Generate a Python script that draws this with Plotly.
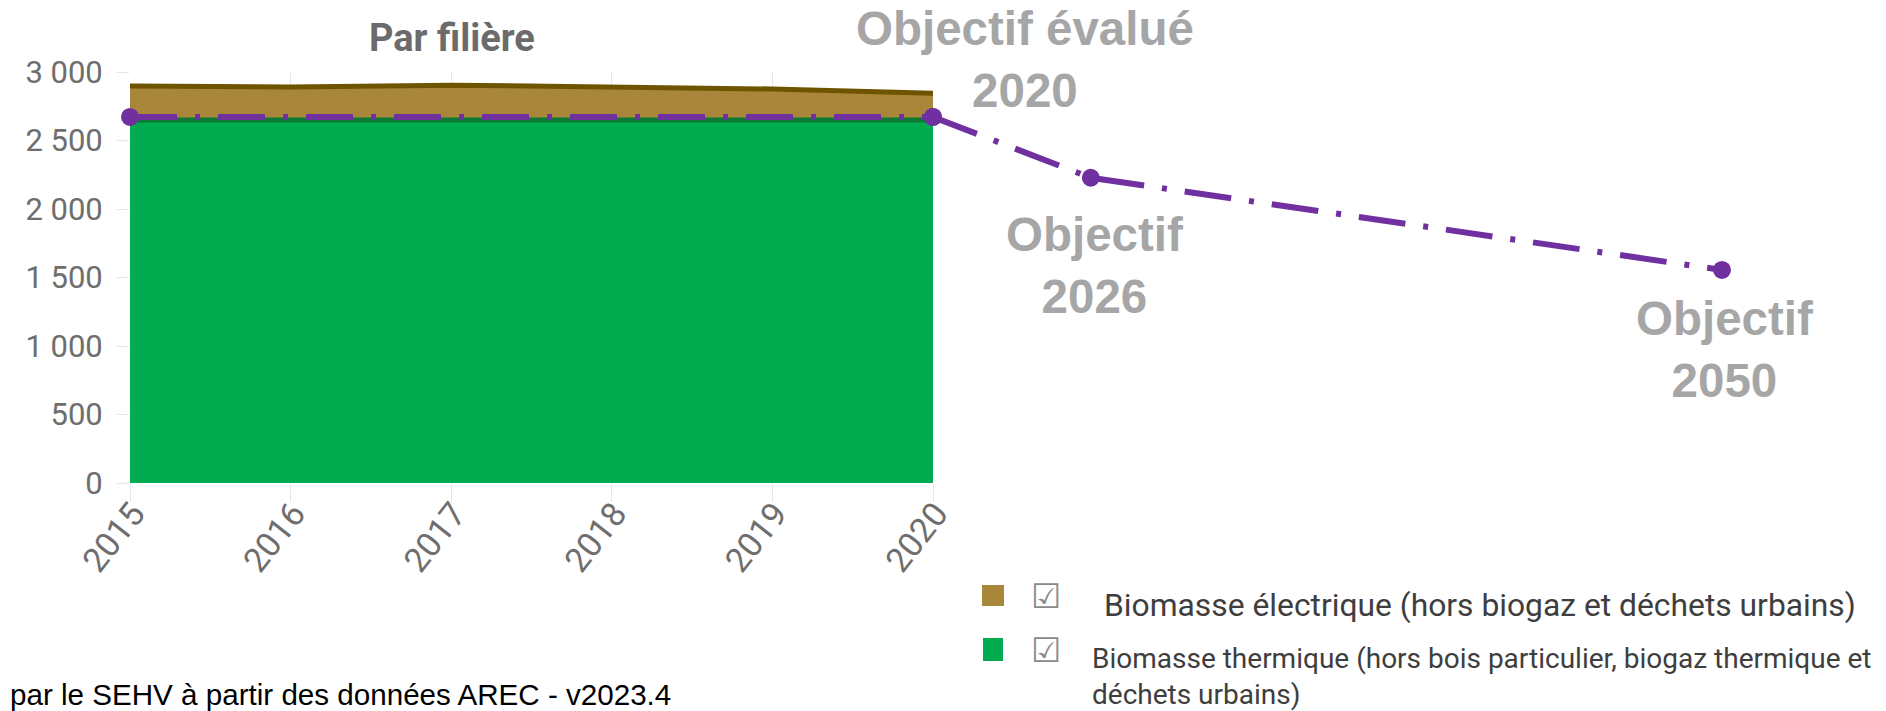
import plotly.graph_objects as go

# ---------------- data ----------------
years = [2015, 2016, 2017, 2018, 2019, 2020]
year_labels = ["2015", "2016", "2017", "2018", "2019", "2020"]
biomasse_thermique = [2650, 2650, 2650, 2650, 2650, 2650]
biomasse_electrique = [248, 240, 254, 236, 226, 195]

obj_hist_years = [2015, 2020]
obj_hist_values = [2672, 2672]
obj_years = [2020, 2026, 2050]
obj_values = [2672, 2228, 1555]
obj_labels = ["Objectif évalué<br>2020", "Objectif<br>2026", "Objectif<br>2050"]

y_ticks = [0, 500, 1000, 1500, 2000, 2500, 3000]
legend_names = [
    "Biomasse électrique (hors biogaz et déchets urbains)",
    "Biomasse thermique (hors bois particulier, biogaz thermique et<br>déchets urbains)",
]
title_text = "Par filière"
source_text = "par le SEHV à partir des données AREC - v2023.4"

# ---------------- styles ----------------
W, H = 1886, 711
def px_x(x):
    return x / W
def px_y(y):
    return 1 - y / H

GREEN = "#00AC4F"
GREEN_LINE = "#0B7A33"
BROWN = "#A8863A"
BROWN_LINE = "#6F5400"
PURPLE = "#7030A0"
GRID = "#E6E6E6"
TICK_FONT = dict(family="Roboto", size=31, color="#6E6E6E")
XTICK_FONT = dict(family="Roboto", size=34, color="#6E6E6E")
DASH = "47px,18px,5px,18px"

x_dom = [px_x(130), px_x(933)]
y_dom = [px_y(483), px_y(72)]
x2_dom = [px_x(933), 1.0]
px_per_year_x2 = 26.3
x2_range = [2020, 2020 + (W - 933) / px_per_year_x2]

fig = go.Figure()

fig.add_trace(go.Scatter(
    x=years, y=biomasse_thermique, stackgroup="one", mode="lines",
    line=dict(color=GREEN_LINE, width=5), fillcolor=GREEN,
    name=legend_names[1], showlegend=False, hoverinfo="skip",
))
fig.add_trace(go.Scatter(
    x=years, y=biomasse_electrique, stackgroup="one", mode="lines",
    line=dict(color=BROWN_LINE, width=5), fillcolor=BROWN,
    name=legend_names[0], showlegend=False, hoverinfo="skip",
))
fig.add_trace(go.Scatter(
    x=obj_hist_years, y=obj_hist_values, mode="lines+markers",
    line=dict(color=PURPLE, width=6, dash=DASH),
    marker=dict(color=PURPLE, size=18), cliponaxis=False,
    showlegend=False, hoverinfo="skip",
))
fig.add_trace(go.Scatter(
    x=obj_years, y=obj_values, mode="lines+markers",
    xaxis="x2", yaxis="y2",
    line=dict(color=PURPLE, width=6, dash=DASH),
    marker=dict(color=PURPLE, size=18), cliponaxis=False,
    showlegend=False, hoverinfo="skip",
))

# objective labels
label_shifts = [(92, 57), (4, -88), (2, -80)]
annotations = []
for yr, val, txt, (dx, dy) in zip(obj_years, obj_values, obj_labels, label_shifts):
    annotations.append(dict(
        x=yr, y=val, xref="x2", yref="y2", text=txt, showarrow=False,
        xanchor="center", yanchor="middle", xshift=dx, yshift=dy, align="center",
        font=dict(family="Liberation Sans", size=47.5, color="#A6A6A6", weight="bold"),
    ))

# title
annotations.append(dict(
    x=px_x(452), y=px_y(37.5), xref="paper", yref="paper", text=title_text,
    showarrow=False, xanchor="center", yanchor="middle",
    font=dict(family="Roboto", size=38, color="#6B6B6B", weight="bold"),
))
# source
annotations.append(dict(
    x=px_x(8), y=px_y(694), xref="paper", yref="paper", text=source_text,
    showarrow=False, xanchor="left", yanchor="middle",
    font=dict(family="Liberation Sans", size=29.6, color="#000000"),
))

# legend (manual)
legend_items = [
    dict(color=BROWN, sq=(982, 1004, 585, 606), text_x=1102, text_y=605, box_y=595.5,
         size=31.8, name=legend_names[0]),
    dict(color=GREEN, sq=(983, 1003, 638, 661), text_x=1090, text_y=676, box_y=649.5,
         size=28, name=legend_names[1]),
]
shapes = []
for it in legend_items:
    x0, x1, y0, y1 = it["sq"]
    shapes.append(dict(type="rect", xref="paper", yref="paper",
                       x0=px_x(x0), x1=px_x(x1), y0=px_y(y1), y1=px_y(y0),
                       fillcolor=it["color"], line=dict(width=0)))
    annotations.append(dict(
        x=px_x(1046), y=px_y(it["box_y"]), xref="paper", yref="paper", text="☑",
        showarrow=False, xanchor="center", yanchor="middle",
        font=dict(family="DejaVu Sans", size=34, color="#8A8A8A"),
    ))
    annotations.append(dict(
        x=px_x(it["text_x"]), y=px_y(it["text_y"]), xref="paper", yref="paper", text=it["name"],
        showarrow=False, xanchor="left", yanchor="middle", align="left",
        font=dict(family="Roboto", size=it["size"], color="#3E3E3E"),
    ))

fig.update_layout(
    width=W, height=H, autosize=False,
    margin=dict(l=0, r=0, t=0, b=0, autoexpand=False),
    paper_bgcolor="white", plot_bgcolor="rgba(0,0,0,0)",
    separators=", ",
    showlegend=False,
    xaxis=dict(
        domain=x_dom, range=[years[0], years[-1]], anchor="y", automargin=False,
        tickmode="array", tickvals=years, ticktext=year_labels, tickangle=-52,
        tickfont=XTICK_FONT, showgrid=True, gridcolor=GRID, gridwidth=1,
        ticks="outside", ticklen=18, tickcolor=GRID, tickwidth=1,
        ticklabelstandoff=-22, ticklabelshift=3,
        showline=False, zeroline=False,
    ),
    yaxis=dict(
        domain=y_dom, range=[0, 3000], anchor="x", automargin=False,
        tickmode="array", tickvals=y_ticks, tickformat=",d",
        tickfont=TICK_FONT, showgrid=True, gridcolor=GRID, gridwidth=1,
        ticks="outside", ticklen=12, tickcolor=GRID, tickwidth=1,
        ticklabelstandoff=8,
        showline=False, zeroline=False,
    ),
    xaxis2=dict(domain=x2_dom, range=x2_range, anchor="y2", visible=False,
                showgrid=False, automargin=False),
    yaxis2=dict(domain=y_dom, range=[0, 3000], anchor="x2", visible=False,
                showgrid=False, automargin=False),
    annotations=annotations,
    shapes=shapes,
)

fig.write_html(
    "out.html",
    config={"displayModeBar": False},
    post_script="document.body.style.margin='0';document.body.style.overflow='hidden';",
)
